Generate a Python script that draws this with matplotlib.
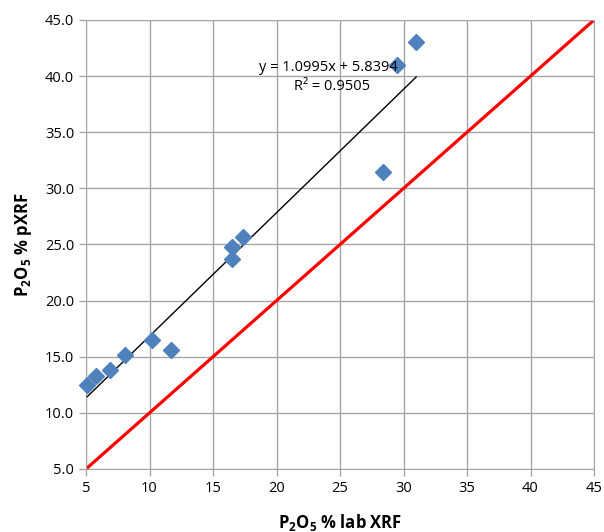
import matplotlib
matplotlib.use("Agg")
import matplotlib.pyplot as plt
import numpy as np

plt.rcParams['font.family'] = ['Open Sans', 'DejaVu Sans']
plt.rcParams['mathtext.fontset'] = 'custom'
plt.rcParams['mathtext.rm'] = 'Open Sans'
plt.rcParams['mathtext.bf'] = 'Open Sans:bold'

lab_xrf = [5.1, 5.8, 6.9, 8.1, 10.2, 11.7, 16.5, 16.5, 17.4, 28.4, 29.5, 31.0]
pxrf = [12.5, 13.3, 13.8, 15.2, 16.5, 15.6, 24.8, 23.7, 25.7, 31.5, 41.0, 43.0]
slope = 1.0995
intercept = 5.8394
r2 = 0.9505
x_ticks = [5, 10, 15, 20, 25, 30, 35, 40, 45]
y_ticks = [5.0, 10.0, 15.0, 20.0, 25.0, 30.0, 35.0, 40.0, 45.0]

fig = plt.figure(figsize=(6.04, 5.32), dpi=100)
ax = fig.add_axes([86/604, 1-469/532, (594-86)/604, (469-20)/532])

ax.set_xlim(5, 45)
ax.set_ylim(5, 45)
ax.set_xticks(x_ticks)
ax.set_yticks(y_ticks)
ax.set_xticklabels([str(v) for v in x_ticks])
ax.set_yticklabels([f"{v:.1f}" for v in y_ticks])
ax.grid(True, color='#a6a6a6', linewidth=1.0)
ax.set_axisbelow(True)
for s in ax.spines.values():
    s.set_color('#a6a6a6')
ax.tick_params(colors='#a6a6a6', labelcolor='black', labelsize=10.5, length=5, width=1)

# 1:1 line
ax.plot([x_ticks[0], x_ticks[-1]], [x_ticks[0], x_ticks[-1]], color='#ff0000', linewidth=2.3, zorder=2)

# trend line
xs = np.array([min(lab_xrf), max(lab_xrf)])
ax.plot(xs, slope * xs + intercept, color='black', linewidth=1.0, zorder=3)

ax.plot(lab_xrf, pxrf, linestyle='none', marker='D', markersize=8.5, color='#4f81bd',
        zorder=4, clip_on=False)

ax.text(24.1, 40.8, f"y = {slope}x + {intercept}", fontsize=10.5, ha='center', va='center', zorder=5)
ax.text(24.4, 39.1, f"R² = {r2}", fontsize=10.5, ha='center', va='center', zorder=5)

ax.set_xlabel(r"P$_\mathbf{2}$O$_\mathbf{5}$ % lab XRF", fontsize=12, fontweight='bold', labelpad=12)
ax.set_ylabel(r"P$_\mathbf{2}$O$_\mathbf{5}$ % pXRF", fontsize=12, fontweight='bold', labelpad=8)

fig.savefig("out.png", dpi=100)
